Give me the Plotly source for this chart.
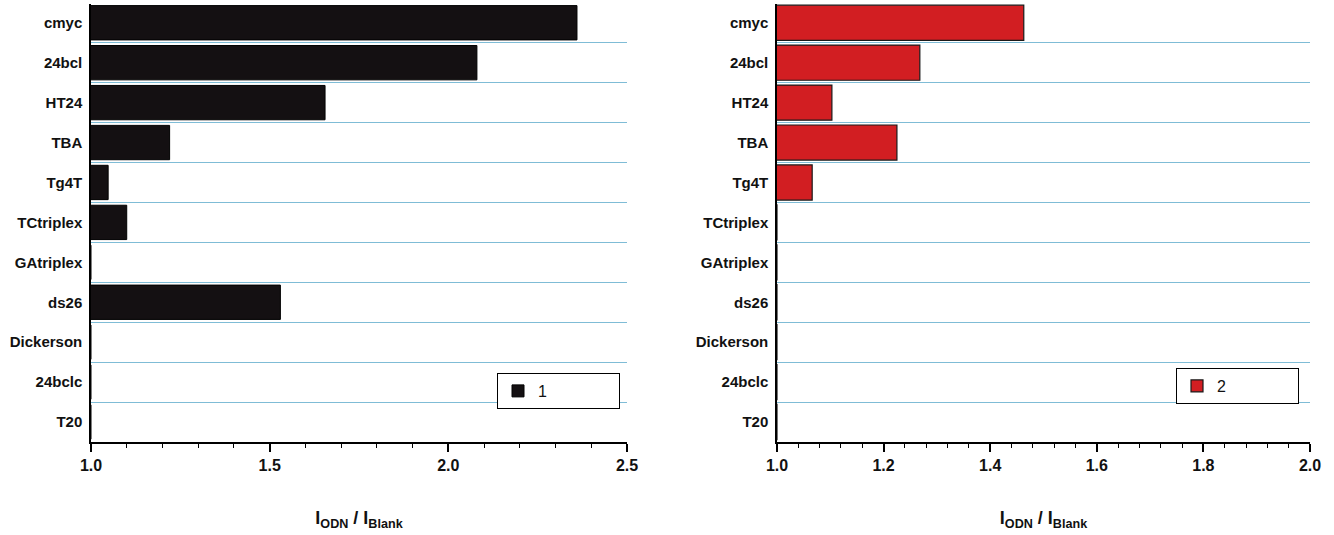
import plotly.graph_objects as go
from plotly.subplots import make_subplots

categories = ["cmyc", "24bcl", "HT24", "TBA", "Tg4T", "TCtriplex", "GAtriplex",
              "ds26", "Dickerson", "24bclc", "T20"]
ratio_1 = [2.36, 2.08, 1.655, 1.22, 1.048, 1.10, 1.0, 1.53, 1.0, 1.0, 1.0]
ratio_2 = [1.463, 1.268, 1.103, 1.225, 1.066, 1.0, 1.0, 1.0, 1.0, 1.0, 1.0]
x_ticks_1 = [1.0, 1.5, 2.0, 2.5]
x_ticks_2 = [1.0, 1.2, 1.4, 1.6, 1.8, 2.0]

FONT = "Liberation Sans, Arial, sans-serif"
W, H = 1334, 535
MT, MB = 4, 93

fig = make_subplots(rows=1, cols=2)

fig.add_trace(go.Bar(y=categories, x=ratio_1, orientation="h", name="1",
                     marker=dict(color="#141012", line=dict(color="#000000", width=1)),
                     width=0.86, showlegend=True, legend="legend"), row=1, col=1)
fig.add_trace(go.Bar(y=categories, x=ratio_2, orientation="h", name="2",
                     marker=dict(color="#d21e22", line=dict(color="#1a1a1a", width=1.2)),
                     width=0.88, showlegend=True, legend="legend2"), row=1, col=2)

xcommon = dict(showline=True, linecolor="black", linewidth=2, ticks="outside",
               ticklen=8, tickwidth=1.5, tickcolor="black", showgrid=False,
               zeroline=False, tickformat=".1f",
               tickfont=dict(family=FONT, size=16, color="#111", weight="bold"),
               title=dict(text="I<sub>ODN</sub> / I<sub>Blank</sub>",
                          font=dict(family=FONT, size=18, color="#111", weight="bold"),
                          standoff=38))
fig.update_xaxes(xcommon)
fig.update_xaxes(range=[1.0, 2.5], tickvals=x_ticks_1,
                 minor=dict(dtick=0.1, ticks="outside", ticklen=4, tickwidth=1.2, tickcolor="black"),
                 domain=[91 / W, 627 / W], row=1, col=1)
fig.update_xaxes(range=[1.0, 2.0], tickvals=x_ticks_2,
                 minor=dict(dtick=0.04, ticks="outside", ticklen=4, tickwidth=1.2, tickcolor="black"),
                 domain=[777 / W, 1310 / W], row=1, col=2)

fig.update_yaxes(type="category", categoryorder="array", categoryarray=categories,
                 range=[10.5, -0.47], tickson="boundaries", ticks="",
                 showgrid=True, gridcolor="#7fbcd6", gridwidth=1.2,
                 showline=True, linecolor="black", linewidth=1.5,
                 ticklabelstandoff=4,
                 tickfont=dict(family=FONT, size=15, color="#111", weight="bold"))

legend_style = dict(orientation="h", entrywidth=76, bordercolor="black", borderwidth=1,
                    bgcolor="white", xanchor="right", yanchor="top",
                    font=dict(family=FONT, size=16, color="#111"))
fig.update_layout(
    width=W, height=H, template="none", showlegend=True,
    paper_bgcolor="white", plot_bgcolor="white",
    margin=dict(l=0, r=0, t=MT, b=MB),
    legend=dict(legend_style, x=620 / W, y=(H - MB - 373) / (H - MT - MB)),
    legend2=dict(legend_style, x=1299 / W, y=(H - MB - 368) / (H - MT - MB)),
)

fig.write_html("out.html", config={"displayModeBar": False},
               post_script="document.body.style.margin='0';")
